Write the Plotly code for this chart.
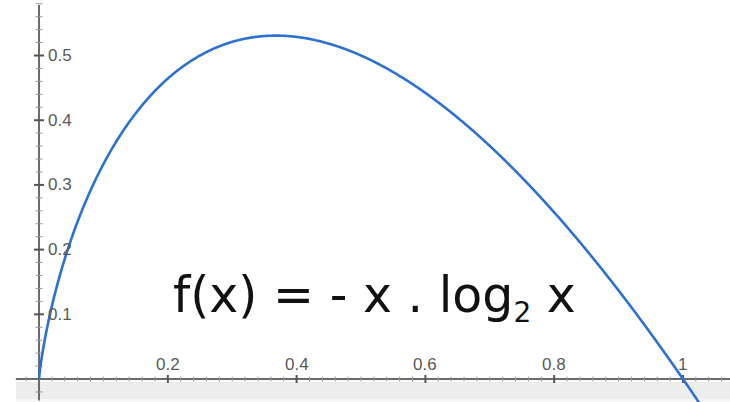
import numpy as np
import plotly.graph_objects as go

# Tick values and their labels
x_ticks = [0.2, 0.4, 0.6, 0.8, 1.0]
x_tick_labels = ["0.2", "0.4", "0.6", "0.8", "1"]
y_ticks = [0.1, 0.2, 0.3, 0.4, 0.5]
y_tick_labels = ["0.1", "0.2", "0.3", "0.4", "0.5"]

# The plotted function f(x) = -x * log2(x)
x_samples = np.linspace(1e-7, 1.08, 800)
f_values = -x_samples * np.log2(x_samples)

W, H = 730, 402
X_RANGE = [-0.0606, 1.0730]
Y_RANGE = [-0.0355, 0.5858]

AXIS_COLOR = "#6a6a6a"
MAJOR_COLOR = "#555555"
MINOR_COLOR = "#9a9a9a"
LABEL_COLOR = "#5a5a5a"
CURVE_COLOR = "#2d71d2"

fig = go.Figure()
fig.add_trace(go.Scatter(
    x=x_samples, y=f_values, mode="lines",
    line=dict(color=CURVE_COLOR, width=2.6, shape="spline"),
    hoverinfo="skip", showlegend=False, cliponaxis=True,
))

shapes = []

# light band along the bottom edge
shapes.append(dict(type="rect", xref="paper", yref="paper",
                   x0=16 / W, x1=1, y0=(H - 399) / H, y1=(H - 382) / H,
                   fillcolor="#ededed", line=dict(width=0), layer="below"))
shapes.append(dict(type="rect", xref="paper", yref="paper",
                   x0=16 / W, x1=1, y0=0, y1=(H - 399) / H,
                   fillcolor="#f6f6f6", line=dict(width=0), layer="below"))

# axis lines crossing at the origin
shapes.append(dict(type="line", xref="x", yref="y", x0=-0.036, x1=X_RANGE[1],
                   y0=0, y1=0, line=dict(color=AXIS_COLOR, width=2), layer="below"))
shapes.append(dict(type="line", xref="x", yref="y", x0=0, x1=0,
                   y0=-0.033, y1=0.578, line=dict(color=AXIS_COLOR, width=2), layer="below"))

# tick marks straddling the axes
minor_x = [v for v in np.round(np.arange(-0.02, 1.08, 0.02), 2) if v not in x_ticks and v != 0]
minor_y = [v for v in np.round(np.arange(-0.02, 0.59, 0.02), 2) if v not in y_ticks and v != 0]

for v in minor_x:
    shapes.append(dict(type="line", xref="x", yref="y", ysizemode="pixel", yanchor=0,
                       x0=v, x1=v, y0=-2.5, y1=2.5,
                       line=dict(color=MINOR_COLOR, width=1), layer="below"))
for v in x_ticks:
    shapes.append(dict(type="line", xref="x", yref="y", ysizemode="pixel", yanchor=0,
                       x0=v, x1=v, y0=-4, y1=4,
                       line=dict(color=MAJOR_COLOR, width=2), layer="below"))
for v in minor_y:
    shapes.append(dict(type="line", xref="x", yref="y", xsizemode="pixel", xanchor=0,
                       x0=-3.5, x1=3.5, y0=v, y1=v,
                       line=dict(color=MINOR_COLOR, width=1), layer="below"))
for v in y_ticks:
    shapes.append(dict(type="line", xref="x", yref="y", xsizemode="pixel", xanchor=0,
                       x0=-5, x1=5, y0=v, y1=v,
                       line=dict(color=MAJOR_COLOR, width=2), layer="below"))

annotations = []
label_font = dict(family="Liberation Sans, Arial, sans-serif", size=17, color=LABEL_COLOR)
for v, t in zip(x_ticks, x_tick_labels):
    annotations.append(dict(x=v, y=0, xref="x", yref="y", text=t, showarrow=False,
                            xanchor="center", yanchor="middle", yshift=15, font=label_font))
for v, t in zip(y_ticks, y_tick_labels):
    annotations.append(dict(x=0, y=v, xref="x", yref="y", text=t, showarrow=False,
                            xanchor="left", yanchor="middle", xshift=7, font=label_font))

# formula caption
annotations.append(dict(x=374 / W, y=(H - 298) / H, xref="paper", yref="paper",
                        text="f(x) = - x . log<sub><span style='font-size:28px'>2</span></sub> x",
                        showarrow=False, xanchor="center", yanchor="middle",
                        font=dict(family="DejaVu Sans, Verdana, sans-serif", size=49, color="#111111")))

fig.update_layout(
    width=W, height=H,
    margin=dict(l=0, r=0, t=0, b=0),
    paper_bgcolor="white", plot_bgcolor="white",
    xaxis=dict(range=X_RANGE, visible=False, fixedrange=True),
    yaxis=dict(range=Y_RANGE, visible=False, fixedrange=True),
    shapes=shapes, annotations=annotations, showlegend=False,
)

fig.write_html("out.html", config={"displayModeBar": False})
